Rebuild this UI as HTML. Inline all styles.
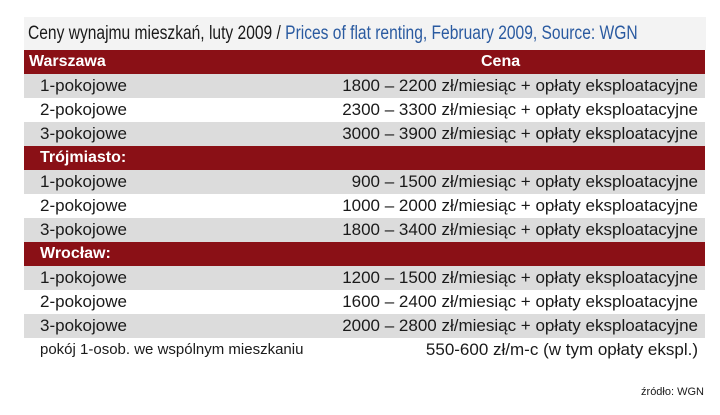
<!DOCTYPE html>
<html><head><meta charset="utf-8"><style>
body{margin:0;width:720px;height:415px;background:#fff;font-family:"Liberation Sans Narrow","Liberation Sans",sans-serif;position:relative;overflow:hidden;color:#1a1a1a}
.title{position:absolute;left:24px;top:17px;width:682px;height:33px;background:#f3f3f3;font-size:19px;line-height:33px;padding-left:4px;box-sizing:border-box;white-space:nowrap;overflow:hidden}
.title .in{display:inline-block;transform:scaleX(0.82);transform-origin:left center}
.title .en{color:#2a5aa0}
.row{position:absolute;left:24px;width:681px;height:24px;font-size:17px;line-height:24px;white-space:nowrap}
.g{background:#dcdcdc}
.r{background:#8a1016;color:#fff;font-weight:bold;font-family:"Liberation Sans",sans-serif;font-size:16px}
.l{position:absolute;left:16px}
.rt{position:absolute;right:7px}
.h{position:absolute;left:5px}
.c{position:absolute;left:457px}
.src{position:absolute;right:16px;top:386px;font-size:11px}
</style></head><body>
<div class="title"><span class="in">Ceny wynajmu mieszkań, luty 2009 / <span class="en">Prices of flat renting, February 2009, Source: WGN</span></span></div>
<div class="row r" style="top:50px"><span class="h">Warszawa</span><span class="c">Cena</span></div>
<div class="row g" style="top:74px"><span class="l">1-pokojowe</span><span class="rt">1800 – 2200 zł/miesiąc + opłaty eksploatacyjne</span></div>
<div class="row" style="top:98px"><span class="l">2-pokojowe</span><span class="rt">2300 – 3300 zł/miesiąc + opłaty eksploatacyjne</span></div>
<div class="row g" style="top:122px"><span class="l">3-pokojowe</span><span class="rt">3000 – 3900 zł/miesiąc + opłaty eksploatacyjne</span></div>
<div class="row r" style="top:146px"><span class="h" style="left:16px">Trójmiasto:</span></div>
<div class="row g" style="top:170px"><span class="l">1-pokojowe</span><span class="rt">900 – 1500 zł/miesiąc + opłaty eksploatacyjne</span></div>
<div class="row" style="top:194px"><span class="l">2-pokojowe</span><span class="rt">1000 – 2000 zł/miesiąc + opłaty eksploatacyjne</span></div>
<div class="row g" style="top:218px"><span class="l">3-pokojowe</span><span class="rt">1800 – 3400 zł/miesiąc + opłaty eksploatacyjne</span></div>
<div class="row r" style="top:242px"><span class="h" style="left:16px">Wrocław:</span></div>
<div class="row g" style="top:266px"><span class="l">1-pokojowe</span><span class="rt">1200 – 1500 zł/miesiąc + opłaty eksploatacyjne</span></div>
<div class="row" style="top:290px"><span class="l">2-pokojowe</span><span class="rt">1600 – 2400 zł/miesiąc + opłaty eksploatacyjne</span></div>
<div class="row g" style="top:314px"><span class="l">3-pokojowe</span><span class="rt">2000 – 2800 zł/miesiąc + opłaty eksploatacyjne</span></div>
<div class="row" style="top:338px"><span class="l" style="font-size:15px">pokój 1-osob. we wspólnym mieszkaniu</span><span class="rt">550-600 zł/m-c (w tym opłaty ekspl.)</span></div>
<div class="src">źródło: WGN</div>
</body></html>
